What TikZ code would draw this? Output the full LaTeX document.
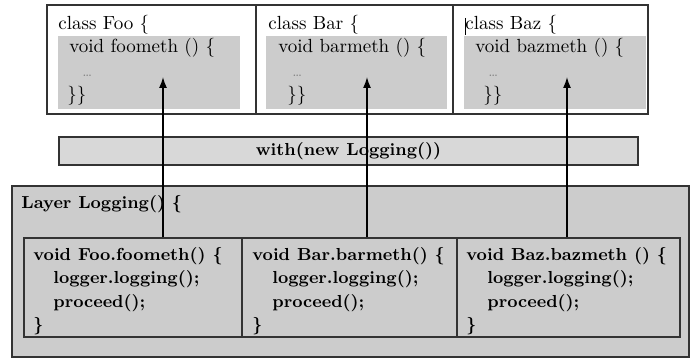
\documentclass[tikz,border=0pt]{standalone}
\usepackage{fontspec}
\usetikzlibrary{arrows.meta}
\definecolor{boxgray}{HTML}{CCCCCC}
\definecolor{bargray}{HTML}{D8D8D8}
\definecolor{edge}{HTML}{333333}
\begin{document}
\begin{tikzpicture}[x=0.5pt,y=-0.5pt,
  classbox/.style={draw=edge,line width=0.6pt,fill=white,rectangle,minimum height=54.5pt,inner sep=0pt},
  methbox/.style={fill=boxgray,rectangle,minimum width=91pt,minimum height=36.5pt,inner sep=0pt},
  layerbox/.style={draw=edge,line width=0.6pt,fill=boxgray,rectangle,inner sep=0pt},
  advbox/.style={draw=edge,line width=0.6pt,fill=boxgray,rectangle,minimum height=49.5pt,inner sep=0pt},
  withbar/.style={draw=edge,line width=0.6pt,fill=bargray,rectangle,minimum width=289.5pt,minimum height=14pt,inner sep=0pt},
  rtext/.style={anchor=base west,inner sep=0pt,font=\fontsize{9.5}{11}\selectfont},
  dots/.style={anchor=base west,inner sep=0pt,font=\fontsize{6.5}{7}\selectfont,text=gray},
  btext/.style={anchor=base west,inner sep=0pt,font=\fontsize{8.7}{10}\selectfont\bfseries},
  arr/.style={line width=0.7pt,-{Latex[length=5.5pt,width=4pt]}}]
\useasboundingbox (0,0) rectangle (695,358);
% layer
\node[layerbox,minimum width=338.5pt,minimum height=85.5pt] (layer) at (350.5,271.5) {};
\node[advbox,minimum width=109pt] (mfoo) at (133,287.5) {};
\node[advbox,minimum width=107.5pt] (mbar) at (349.5,287.5) {};
\node[advbox,minimum width=111.5pt] (mbaz) at (568.5,287.5) {};
% with bar
\node[withbar] (with) at (348.5,151) {};
% classes
\node[classbox,minimum width=104.5pt] (cfoo) at (151.5,59.5) {};
\node[classbox,minimum width=98.5pt] (cbar) at (354.5,59.5) {};
\node[classbox,minimum width=97.5pt] (cbaz) at (550.5,59.5) {};
\node[methbox] (gfoo) at (149,72.5) {};
\node[methbox,minimum width=90.5pt] (gbar) at (356.5,72.5) {};
\node[methbox] (gbaz) at (555,72.5) {};
% texts top
\node[rtext] (t1) at (58,30) {class Foo \{};
\node[rtext] (t2) at (268,30) {class Bar \{};
\node[rtext] (t3) at (465,30) {class Baz \{};
\draw[line width=0.4pt] (t3.west |- 0,18) -- (t3.west |- 0,35);
\node[rtext] (t4) at (69,53) {void foometh () \{};
\node[rtext] (t5) at (278,53) {void barmeth () \{};
\node[rtext] (t6) at (475,53) {void bazmeth () \{};
\node[dots] (d1) at (82,76) {\ldots};
\node[dots] (d2) at (292,76) {\ldots};
\node[dots] (d3) at (488,76) {\ldots};
\node[rtext] (e1) at (67,100) {\}\}};
\node[rtext] (e2) at (287,100) {\}\}};
\node[rtext] (e3) at (483,100) {\}\}};
% with text
\node[font=\fontsize{8.7}{10}\selectfont\bfseries,inner sep=0pt] (wt) at (with) {with(new Logging())};
% layer text
\node[btext] (lt) at (21,208) {Layer Logging() \{};
% method texts
\node[btext] (f1) at (33,260) {void Foo.foometh() \{};
\node[btext] (f2) at (53,283) {logger.logging();};
\node[btext] (f3) at (53,307) {proceed();};
\node[btext] (f4) at (33,330) {\}};
\node[btext] (b1) at (252,260) {void Bar.barmeth() \{};
\node[btext] (b2) at (272,283) {logger.logging();};
\node[btext] (b3) at (272,307) {proceed();};
\node[btext] (b4) at (252,330) {\}};
\node[btext] (z1) at (466,260) {void Baz.bazmeth () \{};
\node[btext] (z2) at (487,283) {logger.logging();};
\node[btext] (z3) at (487,307) {proceed();};
\node[btext] (z4) at (466,330) {\}};
% arrows
\coordinate (afoo) at (163,77);
\coordinate (abar) at (367,77);
\coordinate (abaz) at (567,77);
\draw[arr] (mfoo.north -| afoo) -- (afoo);
\draw[arr] (mbar.north -| abar) -- (abar);
\draw[arr] (mbaz.north -| abaz) -- (abaz);
\end{tikzpicture}
\end{document}
